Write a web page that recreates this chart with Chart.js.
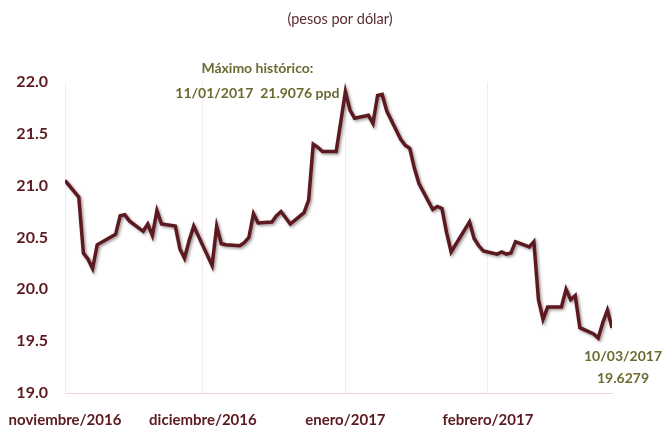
<!DOCTYPE html>
<html>
<head>
<meta charset="utf-8">
<script src="https://cdn.jsdelivr.net/npm/chart.js@4.4.1/dist/chart.umd.min.js"></script>
<style>
  html, body { margin: 0; padding: 0; background: #fff; }
  #wrap { width: 672px; height: 432px; position: relative; }
</style>
</head>
<body>
<div id="wrap"><canvas id="myChart"></canvas></div>
<script>
// tipo de cambio FIX, dias habiles
const fechas = [
  '2016-11-11','2016-11-14','2016-11-15','2016-11-16','2016-11-17','2016-11-18',
  '2016-11-22','2016-11-23','2016-11-24','2016-11-25','2016-11-28','2016-11-29','2016-11-30',
  '2016-12-01','2016-12-02','2016-12-05','2016-12-06','2016-12-07','2016-12-08','2016-12-09',
  '2016-12-13','2016-12-14','2016-12-15','2016-12-16','2016-12-19','2016-12-20','2016-12-21',
  '2016-12-22','2016-12-23','2016-12-26','2016-12-27','2016-12-28','2016-12-29','2016-12-30',
  '2017-01-02','2017-01-03','2017-01-04','2017-01-05','2017-01-06','2017-01-09','2017-01-10',
  '2017-01-11','2017-01-12','2017-01-13','2017-01-16','2017-01-17','2017-01-18','2017-01-19',
  '2017-01-20','2017-01-23','2017-01-24','2017-01-25','2017-01-26','2017-01-27','2017-01-30',
  '2017-01-31','2017-02-01','2017-02-02','2017-02-03','2017-02-07','2017-02-08','2017-02-09',
  '2017-02-10','2017-02-13','2017-02-14','2017-02-15','2017-02-16','2017-02-17','2017-02-20',
  '2017-02-21','2017-02-22','2017-02-23','2017-02-24','2017-02-27','2017-02-28','2017-03-01',
  '2017-03-02','2017-03-03','2017-03-06','2017-03-07','2017-03-08','2017-03-09','2017-03-10'
];
const valores = [
  21.05, 20.89, 20.35, 20.29, 20.20, 20.43,
  20.53, 20.71, 20.72, 20.66, 20.56, 20.63, 20.52,
  20.76, 20.63, 20.61, 20.39, 20.30, 20.47, 20.61,
  20.23, 20.61, 20.44, 20.43, 20.42, 20.45, 20.50,
  20.73, 20.64, 20.65, 20.71, 20.75, 20.69, 20.63,
  20.74, 20.86, 21.40, 21.37, 21.33, 21.33, 21.62,
  21.9076, 21.73, 21.65, 21.68, 21.60, 21.87, 21.88,
  21.72, 21.45, 21.39, 21.36, 21.17, 21.02, 20.77,
  20.80, 20.78, 20.55, 20.36, 20.65, 20.49, 20.42,
  20.37, 20.34, 20.36, 20.34, 20.35, 20.46, 20.41,
  20.46, 19.90, 19.71, 19.83, 19.83, 20.00, 19.90,
  19.94, 19.63, 19.57, 19.53, 19.68, 19.80, 19.6279
];
const tickFechas = ['2016-11-11', '2016-12-11', '2017-01-11', '2017-02-11'];
const tickEtiquetas = ['noviembre/2016', 'diciembre/2016', 'enero/2017', 'febrero/2017'];
const yTicks = [19.0, 19.5, 20.0, 20.5, 21.0, 21.5, 22.0];

const titulo = '(pesos por dólar)';
const fechaMax = '2017-01-11';
const valorMax = 21.9076;
const fechaUlt = '2017-03-10';
const valorUlt = 19.6279;

const base = Date.UTC(2016, 10, 11);
function dia(f) {
  const p = f.split('-');
  return Math.round((Date.UTC(+p[0], +p[1] - 1, +p[2]) - base) / 86400000);
}

const puntos = fechas.map((f, i) => ({ x: dia(f), y: valores[i] }));
const xTicks = tickFechas.map(dia);

const vino = '#5c1a20';
const olivo = '#6c6a30';

const sombra = {
  id: 'sombra',
  beforeDatasetDraw(chart) {
    const ctx = chart.ctx;
    ctx.save();
    ctx.shadowColor = 'rgba(40,20,20,0.45)';
    ctx.shadowBlur = 3;
    ctx.shadowOffsetX = 1.5;
    ctx.shadowOffsetY = 1.5;
  },
  afterDatasetDraw(chart) {
    chart.ctx.restore();
  }
};

const notas = {
  id: 'notas',
  afterDraw(chart) {
    const ctx = chart.ctx;
    const xs = chart.scales.x, ys = chart.scales.y;
    ctx.save();
    ctx.textAlign = 'center';
    ctx.textBaseline = 'middle';
    // titulo
    ctx.fillStyle = '#5a2a30';
    ctx.font = '14.5px Lato';
    ctx.fillText(titulo, chart.width / 2 + 4, 19);
    // anotaciones
    ctx.fillStyle = olivo;
    ctx.font = 'bold 14px Lato';
    const xm = xs.getPixelForValue(dia(fechaMax)) - 88;
    const ym = ys.getPixelForValue(valorMax);
    ctx.fillText('Máximo histórico:', xm, ym - 23);
    ctx.fillText(`11/01/2017  ${valorMax} ppd`, xm, ym + 2);
    const xu = xs.getPixelForValue(dia(fechaUlt)) + 11;
    const yu = ys.getPixelForValue(valorUlt);
    ctx.fillText('10/03/2017', xu, yu + 29);
    ctx.fillText(String(valorUlt), xu, yu + 51);
    ctx.restore();
  }
};

new Chart(document.getElementById('myChart'), {
  type: 'line',
  data: {
    datasets: [{
      data: puntos,
      borderColor: vino,
      borderWidth: 3.5,
      pointRadius: 0,
      tension: 0,
      fill: false
    }]
  },
  options: {
    responsive: true,
    maintainAspectRatio: false,
    animation: false,
    layout: { padding: { left: 0, right: 60, top: 82, bottom: 0 } },
    plugins: {
      legend: { display: false },
      tooltip: { enabled: false },
      title: { display: false }
    },
    scales: {
      x: {
        type: 'linear',
        min: 0,
        max: dia(fechaUlt),
        afterBuildTicks(scale) {
          scale.ticks = xTicks.map(v => ({ value: v }));
        },
        afterFit(scale) {
          scale.height = 39;
          scale.paddingLeft = 0;
          scale.paddingRight = 0;
        },
        ticks: {
          autoSkip: false,
          maxRotation: 0,
          padding: 18,
          color: vino,
          font: { family: 'Lato', size: 15, weight: 'bold' },
          callback: (v) => tickEtiquetas[xTicks.indexOf(v)]
        },
        grid: { color: '#f7eaec', drawTicks: false, lineWidth: 1 },
        border: { color: '#f0d4d9', width: 1 }
      },
      y: {
        min: 19,
        max: 22,
        afterBuildTicks(scale) {
          scale.ticks = yTicks.map(v => ({ value: v }));
        },
        afterFit(scale) {
          scale.width = 65;
          scale.paddingTop = 0;
          scale.paddingBottom = 0;
        },
        ticks: {
          padding: 17,
          color: vino,
          font: { family: 'Lato', size: 16, weight: 'bold' },
          callback: (v) => v.toFixed(1)
        },
        grid: { display: false, drawTicks: false },
        border: { color: '#f7eaec', width: 1 }
      }
    }
  },
  plugins: [sombra, notas]
});
</script>
</body>
</html>
